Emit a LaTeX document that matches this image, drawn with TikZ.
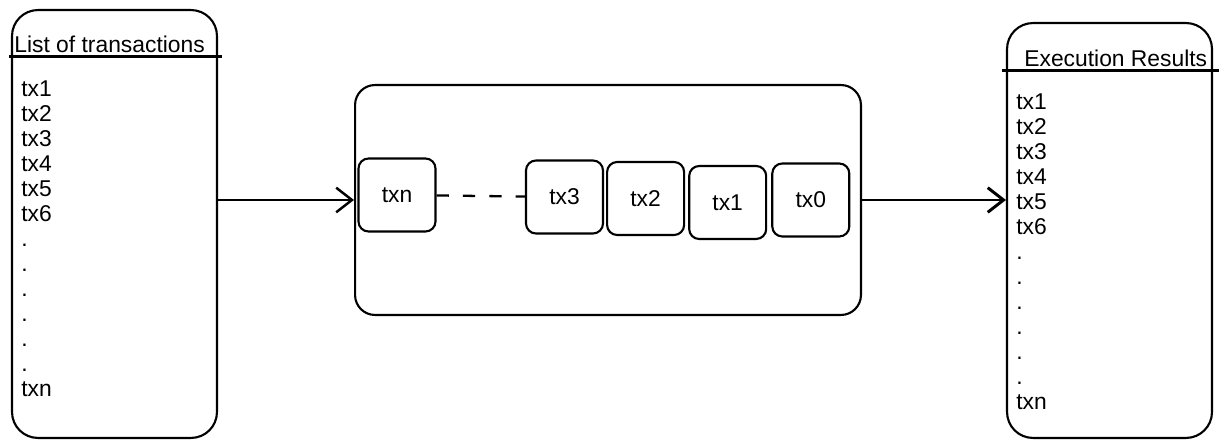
\documentclass[tikz,border=0pt]{standalone}
\usepackage{fontspec}
\setmainfont{Liberation Sans}
\usepackage{tikz}
\usetikzlibrary{calc}
\usetikzlibrary{arrows.meta,shapes}
\usetikzlibrary{matrix,positioning}
\tikzset{
  listbox/.style={draw,line width=1.2pt,rounded corners=0.52cm,minimum width=4.1cm,inner sep=0pt},
  txbox/.style={draw,line width=1.2pt,rounded corners=0.2cm,minimum width=1.54cm,minimum height=1.46cm,inner sep=0pt},
  txlist/.style={matrix of nodes,inner sep=0pt,
    nodes={anchor=west,inner sep=0pt,minimum height=0.5cm,text height=9pt,text depth=0pt}},
  flow/.style={line width=1.4pt,-{Straight Barb[length=9pt,width=14pt]}},
}
\begin{document}
\begin{tikzpicture}[x=0.02cm,y=-0.02cm,font=\fontsize{13}{15}\selectfont]
  \useasboundingbox (0,0) rectangle (1226,448);
  % list of transactions
  \node[listbox,minimum height=8.56cm] (L) at (114.5,224) {};
  \draw[line width=1.7pt] ($(L.north west)+(-2,48)$) -- ($(L.north east)+(4,48)$);
  \node[anchor=base west,inner sep=0pt] (Lt) at (14,53) {List of transactions};
  \matrix (Lm) [txlist,anchor=north west] at (21,75.5) {
    tx1 \\ tx2 \\ tx3 \\ tx4 \\ tx5 \\ tx6 \\
    . \\ . \\ . \\ . \\ . \\ . \\
    txn \\
  };
  % execution queue
  \node[listbox,rounded corners=0.4cm,minimum width=10.12cm,minimum height=4.6cm] (M) at (608,200) {};
  \node[txbox] (Txn) at (397,195) {txn};
  \node[txbox] (T3) at (564.5,197) {tx3};
  \node[txbox,right=0.04cm of T3,yshift=-0.03cm] (T2) {tx2};
  \node[txbox,right=0.06cm of T2,yshift=-0.08cm] (T1) {tx1};
  \node[txbox,right=0.08cm of T1,yshift=0.05cm] (T0) {tx0};
  \draw[line width=1.3pt,dash pattern=on 7pt off 8pt] (Txn) -- (T3);
  % execution results
  \node[listbox,minimum height=8.3cm] (R) at (1109.5,230.5) {};
  \draw[line width=1.7pt] ($(R.north west)+(-4,49)$) -- ($(R.north east)+(6,49)$);
  \node[anchor=base west,inner sep=0pt] (Rt) at (1024,67) {Execution Results};
  \matrix (Rm) [txlist,anchor=north west] at (1016,88.5) {
    tx1 \\ tx2 \\ tx3 \\ tx4 \\ tx5 \\ tx6 \\
    . \\ . \\ . \\ . \\ . \\ . \\
    txn \\
  };
  % flow
  \draw[flow] (L.east |- M.west) -- (M.west);
  \draw[flow,line width=1.7pt] (M.east) -- (M.east -| R.west);
\end{tikzpicture}
\end{document}
